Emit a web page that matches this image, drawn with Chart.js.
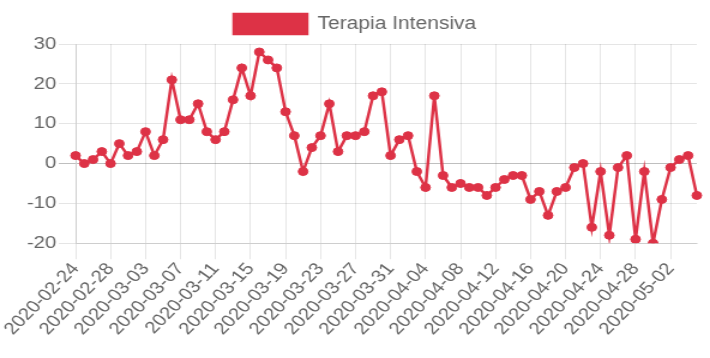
<!DOCTYPE html>
<html><head><meta charset="utf-8">
<script src="https://cdn.jsdelivr.net/npm/chart.js@4/dist/chart.umd.min.js"></script>
<style>html,body{margin:0;padding:0;background:#fff;overflow:hidden}
#c{display:block}</style>
</head><body>
<canvas id="c" width="592" height="358" style="width:710px;height:358px"></canvas>
<script>
const dates = [
  "2020-02-24","2020-02-25","2020-02-26","2020-02-27","2020-02-28","2020-02-29",
  "2020-03-01","2020-03-02","2020-03-03","2020-03-04","2020-03-05","2020-03-06","2020-03-07","2020-03-08","2020-03-09","2020-03-10",
  "2020-03-11","2020-03-12","2020-03-13","2020-03-14","2020-03-15","2020-03-16","2020-03-17","2020-03-18","2020-03-19","2020-03-20",
  "2020-03-21","2020-03-22","2020-03-23","2020-03-24","2020-03-25","2020-03-26","2020-03-27","2020-03-28","2020-03-29","2020-03-30","2020-03-31",
  "2020-04-01","2020-04-02","2020-04-03","2020-04-04","2020-04-05","2020-04-06","2020-04-07","2020-04-08","2020-04-09","2020-04-10",
  "2020-04-11","2020-04-12","2020-04-13","2020-04-14","2020-04-15","2020-04-16","2020-04-17","2020-04-18","2020-04-19","2020-04-20",
  "2020-04-21","2020-04-22","2020-04-23","2020-04-24","2020-04-25","2020-04-26","2020-04-27","2020-04-28","2020-04-29","2020-04-30",
  "2020-05-01","2020-05-02","2020-05-03","2020-05-04","2020-05-05"
];
const terapiaIntensiva = [
  2,0,1,3,0,5,2,3,8,2,
  6,21,11,11,15,8,6,8,16,24,
  17,28,26,24,13,7,-2,4,7,15,
  3,7,7,8,17,18,2,6,7,-2,
  -6,17,-3,-6,-5,-6,-6,-8,-6,-4,
  -3,-3,-9,-7,-13,-7,-6,-1,0,-16,
  -2,-18,-1,2,-19,-2,-20,-9,-1,1,
  2,-8
];
const seriesName = "Terapia Intensiva";
const yMin = -20, yMax = 30, yStep = 10;
const labelEvery = 4;

const red = 'rgb(221,50,70)';
const family = "'Helvetica Neue', Helvetica, Arial, 'Liberation Sans', sans-serif";
const font = { family: family, size: 17 };

const legendGap = {
  id: 'legendGap',
  beforeLayout(chart) {
    if (chart.legend && !chart.legend._gapPatched) {
      chart.legend.afterFit = function() { this.height += 9; };
      chart.legend._gapPatched = true;
    }
  }
};

new Chart(document.getElementById('c'), {
  type: 'line',
  data: {
    labels: dates,
    datasets: [{
      label: seriesName,
      data: terapiaIntensiva,
      borderColor: red,
      backgroundColor: red,
      pointBackgroundColor: red,
      pointBorderColor: red,
      borderWidth: 2.5,
      pointRadius: 4,
      pointBorderWidth: 1,
      tension: 0,
      fill: false
    }]
  },
  plugins: [legendGap],
  options: {
    responsive: false,
    animation: false,
    devicePixelRatio: 1,
    layout: { padding: { left: 0, right: 0, top: 4, bottom: 19 } },
    plugins: {
      legend: {
        display: true,
        position: 'top',
        labels: { color: '#666', font: { family: family, size: 17.5 }, boxWidth: 61, boxHeight: 20, padding: 10 }
      },
      tooltip: { enabled: false }
    },
    scales: {
      x: {
        offset: false,
        afterFit: s => { s.paddingRight = 11; },
        grid: {
          color: ctx => (ctx.index % labelEvery === 0) ? 'rgba(0,0,0,0.1)' : 'rgba(0,0,0,0)',
          tickLength: 16,
          lineWidth: 1
        },
        border: { color: 'rgba(0,0,0,0.1)' },
        ticks: {
          color: '#666',
          font: font,
          autoSkip: false,
          minRotation: 50,
          maxRotation: 50,
          padding: 0,
          callback: function(v, i) { return (i % labelEvery === 0) ? this.getLabelForValue(v) : ''; }
        }
      },
      y: {
        min: yMin,
        max: yMax,
        afterFit: s => { s.width = 63; },
        grid: {
          color: ctx => (ctx.tick && ctx.tick.value === 0) ? 'rgba(0,0,0,0.25)' : 'rgba(0,0,0,0.1)',
          tickLength: 14
        },
        border: { color: 'rgba(0,0,0,0.1)' },
        ticks: { color: '#666', font: font, stepSize: yStep, padding: 2 }
      }
    }
  }
});
</script>
</body></html>
